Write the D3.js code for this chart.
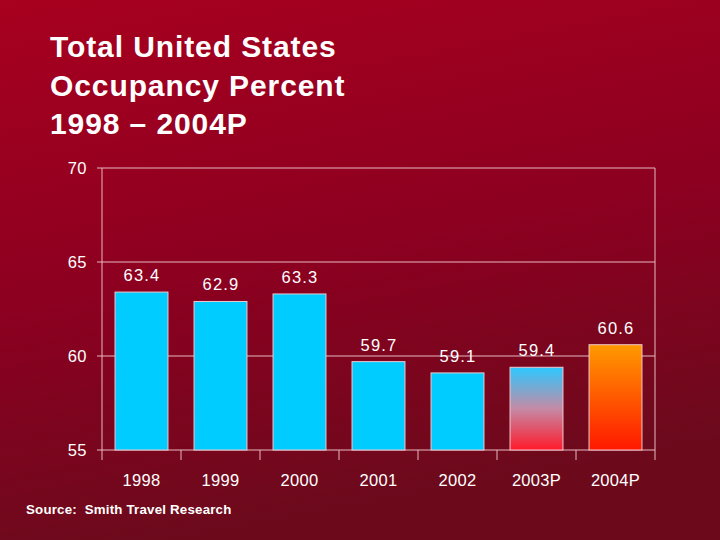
<!DOCTYPE html>
<html><head><meta charset="utf-8">
<script src="https://cdn.jsdelivr.net/npm/d3@7"></script>
<style>html,body{margin:0;padding:0;background:#8a0020;}svg{display:block;}</style>
</head><body>
<script>
const categories = ["1998","1999","2000","2001","2002","2003P","2004P"];
const values = [63.4, 62.9, 63.3, 59.7, 59.1, 59.4, 60.6];
const yTicks = [55, 60, 65, 70];
const titleLines = ["Total United States","Occupancy Percent","1998 \u2013 2004P"];
const sourceText = "Source:  Smith Travel Research";

(function(){
const W = 720, H = 540;
const svg = d3.select("body").append("svg").attr("width", W).attr("height", H);
const defs = svg.append("defs");
const bg = defs.append("linearGradient").attr("id","bg").attr("x1",0).attr("y1",0).attr("x2",0.25).attr("y2",1);
bg.append("stop").attr("offset","0%").attr("stop-color","#a8001f");
bg.append("stop").attr("offset","55%").attr("stop-color","#8c0020");
bg.append("stop").attr("offset","100%").attr("stop-color","#6c0a1c");
const g3 = defs.append("linearGradient").attr("id","g2003").attr("x1",0).attr("y1",0).attr("x2",0).attr("y2",1);
g3.append("stop").attr("offset","0%").attr("stop-color","#2cc8ff");
g3.append("stop").attr("offset","50%").attr("stop-color","#c48aa6");
g3.append("stop").attr("offset","100%").attr("stop-color","#ff1a2a");
const g4 = defs.append("linearGradient").attr("id","g2004").attr("x1",0).attr("y1",0).attr("x2",0).attr("y2",1);
g4.append("stop").attr("offset","0%").attr("stop-color","#ff9a00");
g4.append("stop").attr("offset","100%").attr("stop-color","#ff1800");

svg.append("rect").attr("width",W).attr("height",H).attr("fill","url(#bg)");

const font = "Arial, 'Liberation Sans', sans-serif";
svg.append("g").selectAll("text").data(titleLines).join("text")
  .attr("x",50).attr("y",(d,i)=>57+i*38.5)
  .attr("fill","#fff").attr("font-family",font).attr("font-weight","bold").attr("font-size",30)
  .attr("letter-spacing",0.9).text(d=>d);

const pL = 102, pR = 655, pT = 168, pB = 450;
const x = d3.scaleBand().domain(categories).range([pL,pR]).paddingInner(0.33).paddingOuter(0.165);
const xb = d3.scaleBand().domain(categories).range([pL,pR]);
const y = d3.scaleLinear().domain([55,70]).range([pB,pT]);
const lineCol = "#e7b9c0";

svg.append("g").selectAll("line").data(yTicks).join("line")
  .attr("x1",pL-5).attr("x2",pR).attr("y1",d=>y(d)).attr("y2",d=>y(d))
  .attr("stroke",lineCol).attr("stroke-width",1);
svg.append("line").attr("x1",pR).attr("x2",pR).attr("y1",pT).attr("y2",pB+10).attr("stroke",lineCol);
svg.append("line").attr("x1",pL).attr("x2",pL).attr("y1",pT).attr("y2",pB+10).attr("stroke",lineCol);
svg.append("g").selectAll("line").data(categories.slice(1)).join("line")
  .attr("x1",d=>xb(d)).attr("x2",d=>xb(d)).attr("y1",pB).attr("y2",pB+10).attr("stroke",lineCol);

svg.append("g").selectAll("text").data(yTicks).join("text")
  .attr("x",87).attr("y",d=>y(d)+6).attr("text-anchor","end")
  .attr("fill","#fff").attr("font-family",font).attr("font-size",16.5).attr("letter-spacing",0.5).text(d=>d);

const fills = ["#00ccff","#00ccff","#00ccff","#00ccff","#00ccff","url(#g2003)","url(#g2004)"];
svg.append("g").selectAll("rect").data(values).join("rect")
  .attr("x",(d,i)=>x(categories[i])).attr("width",x.bandwidth())
  .attr("y",d=>y(d)).attr("height",d=>pB-y(d))
  .attr("fill",(d,i)=>fills[i]).attr("stroke","#f0c8d0").attr("stroke-width",1);

svg.append("g").selectAll("text").data(values).join("text")
  .attr("x",(d,i)=>x(categories[i])+x.bandwidth()/2+0.5).attr("y",d=>y(d)-11)
  .attr("text-anchor","middle").attr("fill","#fff").attr("font-family",font).attr("font-size",16.5)
  .attr("letter-spacing",1.2).text(d=>d.toFixed(1));

svg.append("g").selectAll("text").data(categories).join("text")
  .attr("x",d=>x(d)+x.bandwidth()/2).attr("y",486).attr("text-anchor","middle")
  .attr("fill","#fff").attr("font-family",font).attr("font-size",16.5).attr("letter-spacing",0.3).text(d=>d);

svg.append("text").attr("x",26).attr("y",514).attr("fill","#fff").attr("font-family",font)
  .attr("font-weight","bold").attr("font-size",13.3).attr("letter-spacing",0.2).style("white-space","pre").text(sourceText);
})();
</script>
</body></html>
